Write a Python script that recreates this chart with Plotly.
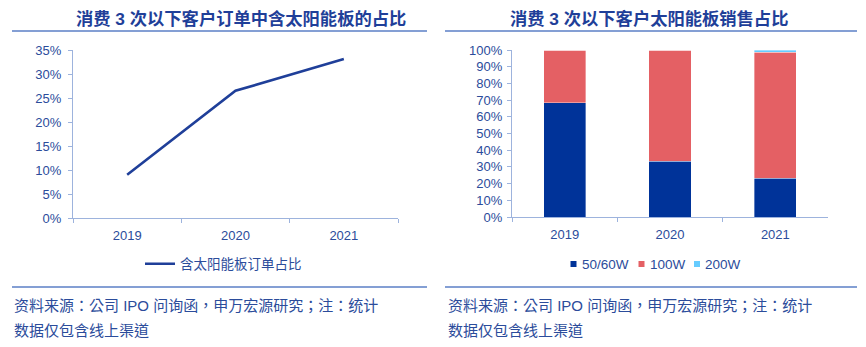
import plotly.graph_objects as go

W, H = 866, 347

# Left panel: share of orders containing a solar panel
years = ["2019", "2020", "2021"]
order_share = [0.090, 0.265, 0.331]

# Right panel: solar panel sales mix by wattage
mix_names = ["50/60W", "100W", "200W"]
mix_colors = ["#003399", "#E46064", "#66CCFF"]
share_5060 = [0.685, 0.335, 0.232]
share_100 = [0.315, 0.665, 0.755]
share_200 = [0.000, 0.000, 0.013]

left_title = "消费 3 次以下客户订单中含太阳能板的占比"
right_title = "消费 3 次以下客户太阳能板销售占比"
line_name = "含太阳能板订单占比"
source_line1 = "资料来源：公司 IPO 问询函，申万宏源研究；注：统计"
source_line2 = "数据仅包含线上渠道"

FONT = "Liberation Sans, Arial, Noto Sans CJK SC, sans-serif"
NOTE_FONT = "Liberation Sans, Arial, Noto Sans CJK TC, sans-serif"
TXT = "#2B4C9B"
TITLE = "#1F3F99"
AXIS = "#9DB3DD"
RULE = "#5B7FC6"


def px_x(p):
    return p / W


def px_y(p):
    return 1 - p / H


fig = go.Figure()

fig.add_trace(go.Scatter(
    x=years, y=order_share, mode="lines", name=line_name,
    line=dict(color="#1F3F99", width=2.6),
    xaxis="x", yaxis="y", legend="legend",
))

for name, vals, col in zip(mix_names, [share_5060, share_100, share_200], mix_colors):
    fig.add_trace(go.Bar(
        x=years, y=vals, name=name,
        marker=dict(color=col, line=dict(color="rgba(255,255,255,0.6)", width=0.6)),
        xaxis="x2", yaxis="y2", showlegend=False,
    ))

common_x = dict(
    type="category", showline=True, linecolor=AXIS, linewidth=1.2,
    ticks="outside", tickson="boundaries", ticklen=4, tickcolor=AXIS,
    showgrid=False, zeroline=False, range=[-0.5, 2.5], ticklabelstandoff=5,
    tickfont=dict(family=FONT, size=13, color=TXT),
)
common_y = dict(
    showline=True, linecolor=AXIS, linewidth=1.2, ticks="outside",
    ticklen=4, tickcolor=AXIS, showgrid=False, zeroline=False,
    tickformat=".0%", tickfont=dict(family=FONT, size=13, color=TXT),
)

fig.update_layout(
    width=W, height=H, margin=dict(l=0, r=0, t=0, b=0, autoexpand=False),
    paper_bgcolor="white", plot_bgcolor="white",
    barmode="stack", bargap=0.6,
    xaxis=dict(common_x, domain=[px_x(73), px_x(398)], anchor="y"),
    yaxis=dict(common_y, domain=[px_y(218), px_y(50)], anchor="x",
               range=[0, 0.35], dtick=0.05, ticklabelstandoff=4),
    xaxis2=dict(common_x, domain=[px_x(512), px_x(828)], anchor="y2"),
    yaxis2=dict(common_y, domain=[px_y(217), px_y(50)], anchor="x2",
                range=[0, 1.0], dtick=0.1, ticklabelstandoff=2),
    legend=dict(
        x=px_x(140), y=px_y(264), xanchor="left", yanchor="middle",
        orientation="h", font=dict(family=FONT, size=13.5, color=TXT),
        bgcolor="rgba(0,0,0,0)", itemwidth=30,
    ),
)

shapes = []
for x0, x1 in [(12, 427), (445, 857)]:
    for yy in (31, 287):
        shapes.append(dict(type="line", xref="paper", yref="paper",
                           x0=px_x(x0), x1=px_x(x1), y0=px_y(yy), y1=px_y(yy),
                           line=dict(color=RULE, width=1.5)))

ann = []
# compact legend for the stacked bars: small square key + label
key_x = [573.5, 641.5, 697.0]
key_y = 264
for name, col, kx in zip(mix_names, mix_colors, key_x):
    shapes.append(dict(type="rect", xref="paper", yref="paper",
                       x0=px_x(kx - 3), x1=px_x(kx + 3),
                       y0=px_y(key_y + 3), y1=px_y(key_y - 3),
                       fillcolor=col, line=dict(width=0)))
    ann.append(dict(text=name, x=px_x(kx + 6), y=px_y(key_y),
                    xref="paper", yref="paper", xanchor="left", yanchor="middle",
                    showarrow=False, font=dict(family=FONT, size=13.5, color=TXT)))
fig.update_layout(shapes=shapes)

for cx, t in [(241.5, left_title), (649, right_title)]:
    ann.append(dict(text="<b>" + t + "</b>", x=px_x(cx), y=px_y(19),
                    xref="paper", yref="paper", xanchor="center", yanchor="middle",
                    showarrow=False, font=dict(family=FONT, size=17.3, color=TITLE)))
for x0 in [12, 446]:
    ann.append(dict(text=source_line1, x=px_x(x0), y=px_y(305),
                    xref="paper", yref="paper", xanchor="left", yanchor="middle",
                    showarrow=False, font=dict(family=NOTE_FONT, size=15, color=TXT)))
    ann.append(dict(text=source_line2, x=px_x(x0), y=px_y(330),
                    xref="paper", yref="paper", xanchor="left", yanchor="middle",
                    showarrow=False, font=dict(family=NOTE_FONT, size=15, color=TXT)))
fig.update_layout(annotations=ann)

fig.write_html("out.html")
